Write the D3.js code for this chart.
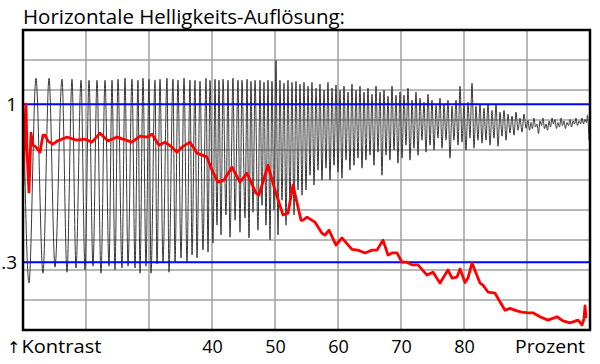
<!DOCTYPE html>
<html>
<head>
<meta charset="utf-8">
<script src="https://cdn.jsdelivr.net/npm/d3@7"></script>
<style>
  body { margin: 0; background: #fff; }
  text { font-family: "Open Sans", sans-serif; fill: #000; }
</style>
</head>
<body>
<div id="chart"></div>
<script>
// Werte: x in Prozent, y als Kontrast (log)
const title = 'Horizontale Helligkeits-Auflösung:'
const xTicks = [40, 50, 60, 70, 80]
const xGrid = [20, 30, 40, 50, 60, 70, 80, 90]
const yMarks = [1, 0.3]
const yMarkLabels = ['1', '.3']
const leftLabel = 'Kontrast'
const rightLabel = 'Prozent'

// gemessenes Signal (Spitzen und Taeler, abwechselnd)
const signal = [
  [10.0,1.182],[10.95,0.256],[12.06,1.219],[13.17,0.276],[14.13,1.219],[15.08,0.289],[16.19,1.21],[16.98,0.278],
  [17.78,1.21],[18.41,0.287],[19.21,1.2],[19.84,0.283],[20.48,1.2],[21.11,0.291],[21.75,1.2],[22.38,0.276],
  [23.02,1.2],[23.65,0.291],[24.13,1.2],
  [24.6,0.283],[25.08,1.21],[25.71,0.287],[26.19,1.219],[26.67,0.291],[27.3,1.21],[27.78,0.287],[28.25,1.2],
  [28.57,0.276],[29.05,1.219],[29.52,0.291],[30.0,1.21],[30.32,0.276],[30.95,1.2],[31.27,0.296],[31.75,1.21],
  [32.22,0.3],[32.86,1.219],[33.17,0.278],[33.81,1.21],[34.13,0.3],[34.6,1.2],[35.08,0.31],[35.56,1.219],
  [36.03,0.3],[36.51,1.2],[36.83,0.317],[37.3,1.2],[37.62,0.31],[38.1,1.191],[38.57,0.329],[39.05,1.219],
  [39.37,0.324],[39.68,1.2],
  [40.16,0.347],[40.48,1.21],[40.79,0.398],[41.11,1.2],[41.43,0.369],[41.75,1.21],[42.22,0.43],[42.54,1.2],
  [42.86,0.363],[43.33,1.219],[43.65,0.413],[44.13,1.2],[44.44,0.377],[44.76,1.2],[45.24,0.42],[45.56,1.21],
  [45.87,0.361],[46.19,1.191],[46.51,0.439],[46.83,1.2],[47.3,0.383],[47.62,1.2],[47.94,0.463],[48.25,1.182],
  [48.57,0.398],[48.89,1.2],[49.21,0.355],[49.52,1.191],[49.84,0.446],[50.16,1.398],[50.48,0.369],[50.79,1.2],
  [51.11,0.481],[51.43,1.173],[51.75,0.398],[52.06,1.2],[52.38,0.463],[52.7,1.182],[53.02,0.43],[53.33,1.191],
  [53.65,0.52],[53.97,1.165],
  [54.29,0.5],[54.6,1.182],[54.92,0.52],[55.24,1.147],[55.56,0.582],[55.87,1.182],[56.19,0.54],[56.51,1.13],
  [56.83,0.605],[57.14,1.165],[57.46,0.561],[57.78,1.112],[58.1,0.614],[58.41,1.182],[58.73,0.561],[59.05,1.13],
  [59.37,0.628],[59.68,1.156],[60.0,0.596],[60.32,1.112],[60.63,0.569],[60.95,1.147],[61.27,0.653],[61.59,1.096],
  [61.9,0.605],[62.22,1.165],[62.54,0.628],[62.86,1.112],[63.17,0.663],[63.49,1.147],[63.81,0.614],[64.13,1.096],
  [64.44,0.653],[64.76,1.13],[65.08,0.678],[65.4,1.079],[65.71,0.628],[66.03,1.147],[66.35,0.694],[66.67,1.096],
  [66.98,0.582],[67.3,1.112],[67.62,0.678],[67.94,1.063],[68.25,0.653],[68.57,1.147],[68.89,0.705],[69.21,1.071],
  [69.52,0.638],[69.84,1.096],
  [70.16,0.663],[70.48,1.071],[70.79,0.732],[71.11,1.13],[71.43,0.653],[71.75,1.031],[72.06,0.715],[72.38,1.096],
  [72.7,0.678],[73.02,1.047],[73.33,0.76],[73.65,1.015],[73.97,0.694],[74.29,1.079],[74.6,0.732],[74.92,1.031],
  [75.24,0.705],[75.56,0.992],[75.87,0.772],[76.19,1.047],[76.51,0.715],[76.83,1.0],[77.14,0.76],[77.46,1.031],
  [77.78,0.663],[78.1,0.985],[78.41,0.76],[78.73,1.031],[79.05,0.732],[79.37,1.147],[79.68,0.749],[80.0,1.0],
  [80.32,0.705],[80.63,1.015],[80.95,0.772],[81.27,1.173],[81.59,0.715],[81.9,0.985],[82.22,0.76],[82.54,1.0],
  [82.86,0.743],[83.17,0.97],[83.49,0.76],[83.81,1.0],[84.13,0.732],[84.44,0.955],[84.76,0.772],[85.08,1.0],
  [85.4,0.726],[85.71,0.941],[86.03,0.784],[86.35,0.955],[86.67,0.76],[86.98,0.927],[87.3,0.802],[87.62,0.913],
  [87.94,0.79],[88.25,0.941],[88.57,0.82],[88.89,0.899],[89.21,0.808],[89.52,0.927],[89.84,0.833],
  [90.16,0.885],[90.4,0.82],[90.63,0.87],[90.87,0.83],[91.1,0.9],[91.35,0.84],[91.59,0.86],[91.83,0.8],
  [92.06,0.88],[92.3,0.85],[92.54,0.9],[92.78,0.83],[93.02,0.86],[93.25,0.82],[93.5,0.88],[93.73,0.84],
  [93.97,0.9],[94.2,0.86],[94.44,0.89],[94.68,0.83],[94.92,0.87],[95.16,0.84],[95.4,0.9],[95.63,0.85],
  [95.87,0.88],[96.1,0.83],[96.35,0.87],[96.58,0.85],[96.82,0.89],[97.06,0.84],[97.3,0.88],[97.54,0.86],
  [97.78,0.9],[98.0,0.85],[98.25,0.88],[98.5,0.86],[98.73,0.9],[98.97,0.86],[99.2,0.89],[99.44,0.87],
  [99.6,0.92],[99.84,0.76]
]

// Kontrastkurve (rot)
const contrast = [
  [10.0,0.54],[10.32,0.885],[10.48,1.0],[10.63,0.705],[10.95,0.512],[11.27,0.802],[11.59,0.732],[12.06,0.721],
  [12.7,0.694],[13.17,0.79],[13.49,0.79],[13.97,0.755],[14.76,0.737],[15.4,0.755],[16.98,0.778],[18.57,0.76],
  [19.84,0.766],[20.95,0.749],[22.22,0.802],[23.49,0.755],[24.92,0.778],[27.3,0.749],[28.57,0.784],[29.68,0.778],
  [30.48,0.796],[31.59,0.732],[32.54,0.749],[33.65,0.721],[34.44,0.694],[35.24,0.721],[36.51,0.749],[37.62,0.689],
  [39.21,0.668],[40.0,0.605],[40.95,0.552],[41.9,0.561],[43.17,0.619],[44.44,0.552],[45.56,0.591],[46.98,0.508],
  [47.46,0.5],[48.89,0.628],[50.0,0.52],[51.27,0.43],[52.06,0.436],[52.86,0.54],[54.13,0.413],[54.44,0.413],
  [55.08,0.423],[56.35,0.407],[57.46,0.374],[57.94,0.369],[58.57,0.383],[59.68,0.342],[60.63,0.361],[62.22,0.331],
  [63.17,0.329],[64.29,0.322],[65.4,0.329],[66.19,0.329],[67.14,0.355],[67.94,0.317],[68.57,0.322],[69.37,0.322],
  [70.16,0.3],[70.95,0.3],[71.75,0.294],[72.7,0.294],[74.13,0.272],[75.08,0.278],[76.19,0.256],[77.46,0.283],
  [78.1,0.266],[78.89,0.268],[79.37,0.285],[80.16,0.257],[80.63,0.266],[81.27,0.298],[82.54,0.256],[83.02,0.252],
  [83.81,0.239],[84.92,0.237],[85.71,0.222],[86.51,0.208],[87.3,0.211],[88.41,0.207],[89.21,0.205],[90.16,0.204],
  [90.95,0.204],[92.06,0.198],[93.33,0.193],[94.76,0.198],[95.71,0.192],[96.83,0.189],[98.1,0.193],[98.73,0.186],
  [99.05,0.195],[99.21,0.215],[99.37,0.196]
]

const width = 600
const height = 364
const pLeft = 23, pRight = 590, pTop = 30, pBottom = 330

let svg = d3.select('#chart')
  .append('svg')
  .attr('width', width)
  .attr('height', height)
  .style('background', '#fff')

let x = d3.scaleLinear().domain([10, 100]).range([pLeft, pRight])
let y = d3.scaleLog().domain([0.179, 1.76]).range([pBottom, pTop])
let row = d3.scaleLinear().domain([0, 10]).range([pTop, pBottom])

svg.append('defs').append('clipPath').attr('id', 'plot')
  .append('rect')
  .attr('x', pLeft).attr('y', pTop)
  .attr('width', pRight - pLeft).attr('height', pBottom - pTop)

// Gitter
svg.append('g')
  .selectAll('line')
  .data(xGrid)
  .enter()
  .append('line')
  .attr('x1', d => x(d)).attr('x2', d => x(d))
  .attr('y1', pTop).attr('y2', pBottom)
  .attr('stroke', '#a0a0a0')
  .attr('stroke-width', 1.5)

svg.append('g')
  .selectAll('line')
  .data(d3.range(1, 10))
  .enter()
  .append('line')
  .attr('x1', pLeft).attr('x2', pRight)
  .attr('y1', d => row(d)).attr('y2', d => row(d))
  .attr('stroke', '#a0a0a0')
  .attr('stroke-width', 1.5)

let plot = svg.append('g').attr('clip-path', 'url(#plot)')

plot.append('path')
  .datum(signal)
  .attr('fill', 'none')
  .attr('stroke', '#383838')
  .attr('stroke-width', 1)
  .attr('d', d3.line()
    .x(d => x(d[0]))
    .y(d => y(d[1]))
    .curve(d3.curveMonotoneX))

plot.append('g')
  .selectAll('line')
  .data(yMarks)
  .enter()
  .append('line')
  .attr('x1', pLeft).attr('x2', pRight)
  .attr('y1', d => y(d)).attr('y2', d => y(d))
  .attr('stroke', '#0000ff')
  .attr('stroke-width', 2)

plot.append('path')
  .datum(contrast)
  .attr('fill', 'none')
  .attr('stroke', '#ff0000')
  .attr('stroke-width', 2.8)
  .attr('stroke-linejoin', 'round')
  .attr('d', d3.line()
    .x(d => x(d[0]))
    .y(d => y(d[1])))

// Rahmen
svg.append('rect')
  .attr('x', pLeft).attr('y', pTop)
  .attr('width', pRight - pLeft).attr('height', pBottom - pTop)
  .attr('fill', 'none')
  .attr('stroke', '#000')
  .attr('stroke-width', 2.5)

// Beschriftung
svg.append('text')
  .attr('x', pLeft)
  .attr('y', 24)
  .attr('font-size', 19.5)
  .attr('textLength', 322)
  .attr('lengthAdjust', 'spacingAndGlyphs')
  .text(title)

svg.append('g')
  .selectAll('text')
  .data(yMarks)
  .enter()
  .append('text')
  .attr('x', 17)
  .attr('y', d => y(d))
  .attr('dy', '0.36em')
  .attr('text-anchor', 'end')
  .attr('font-size', 19)
  .text((d, i) => yMarkLabels[i])

let xAxis = svg.append('g')
  .attr('transform', `translate(0, ${pBottom})`)
  .call(d3.axisBottom(x).tickValues(xTicks).tickSize(0).tickPadding(10))
xAxis.select('.domain').remove()
xAxis.selectAll('text')
  .attr('font-size', 18)
  .attr('font-family', '"Open Sans", sans-serif')
  .attr('fill', '#000')
  .attr('y', 22.5)
  .attr('dy', 0)

let kontrast = svg.append('text')
  .attr('x', 7)
  .attr('y', 352.5)
  .attr('font-size', 18)
kontrast.append('tspan')
  .attr('font-family', '"DejaVu Sans", sans-serif')
  .attr('font-size', 16)
  .text('\u2191')
kontrast.append('tspan')
  .attr('dx', 1)
  .attr('textLength', 80)
  .attr('lengthAdjust', 'spacingAndGlyphs')
  .text(leftLabel)

svg.append('text')
  .attr('x', 515)
  .attr('y', 352.5)
  .attr('font-size', 18)
  .attr('textLength', 70)
  .attr('lengthAdjust', 'spacingAndGlyphs')
  .text(rightLabel)
</script>
</body>
</html>
